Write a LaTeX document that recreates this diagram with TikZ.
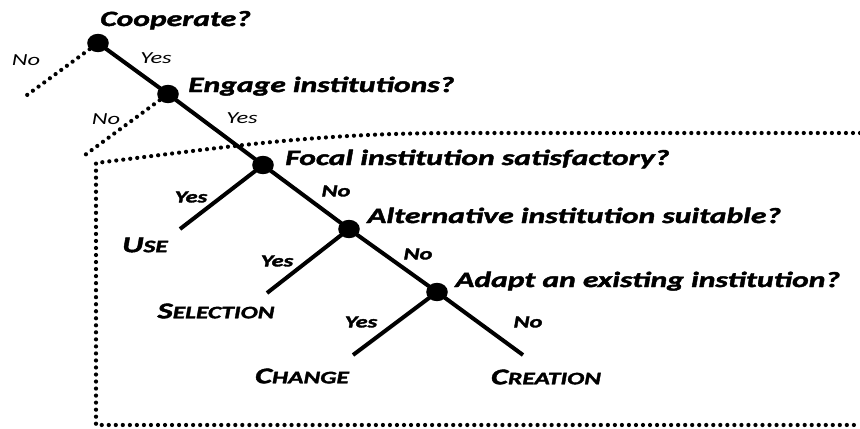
\documentclass[tikz,border=0pt]{standalone}
\usepackage{fontspec}
\setmainfont{Carlito}[FakeStretch=1.45, BoldItalicFeatures={FakeBold=2}]
\usetikzlibrary{shapes.geometric}

% outcome words in fake small caps
\newcommand{\outcome}[2]{#1{\fontsize{12.5}{14}\selectfont #2}}

\tikzset{
  choice/.style={ellipse, fill=black, inner sep=0pt, minimum width=0.54cm, minimum height=0.46cm},
  question/.style={anchor=base west, inner sep=0pt, font=\fontsize{15.5}{18}\selectfont\bfseries\itshape},
  answer/.style={inner sep=0pt, font=\fontsize{12}{14}\selectfont\bfseries\itshape},
  plainanswer/.style={inner sep=0pt, font=\fontsize{12}{14}\selectfont\itshape},
  result/.style={inner sep=0pt, font=\fontsize{16}{18}\selectfont\bfseries\itshape},
  branch/.style={line width=0.1cm},
  nobranch/.style={line width=3pt, line cap=round, dash pattern=on 0pt off 5pt},
}

\begin{document}
\begin{tikzpicture}
      \useasboundingbox (0,0) rectangle (21.5,10.7);
      % decision points
      \node[choice] (a) at (2.45, 9.625) {};
      \node[choice] (b) at (4.2, 8.35) {};
      \node[choice] (c) at (6.575, 6.575) {};
      \node[choice] (d) at (8.725, 4.975) {};
      \node[choice] (e) at (10.925, 3.4) {};
      \coordinate (an) at (0.575, 8.25);
      \coordinate (bn) at (2.125, 6.825);
      \coordinate (cy) at (4.5, 4.975);
      \coordinate (dy) at (6.675, 3.375);
      \coordinate (ey) at (8.825, 1.825);
      \coordinate (en) at (13.075, 1.825);
      % questions
      \node[question] (qa) at (2.5, 10.05) {Cooperate?};
      \node[question] (qb) at (4.7, 8.4) {Engage institutions?};
      \node[question] (qc) at (7.125, 6.575) {Focal institution satisfactory?};
      \node[question] (qd) at (9.175, 5.125) {Alternative institution suitable?};
      \node[question] (qe) at (11.375, 3.525) {Adapt an existing institution?};
      % answers
      \node[plainanswer] (x1) at (0.65, 9.2) {No};
      \node[plainanswer] (y1) at (3.9, 9.25) {Yes};
      \node[plainanswer] (x2) at (2.65, 7.725) {No};
      \node[plainanswer] (y2) at (6.05, 7.75) {Yes};
      \node[answer] (y3) at (4.775, 5.775) {Yes};
      \node[answer] (x3) at (8.4, 5.925) {No};
      \node[answer] (y4) at (6.925, 4.175) {Yes};
      \node[answer] (x4) at (10.45, 4.35) {No};
      \node[answer] (y5) at (9.025, 2.65) {Yes};
      \node[answer] (x5) at (13.2, 2.65) {No};
      % outcomes
      \node[result] (u) at (3.625, 4.575) {\outcome{U}{SE}};
      \node[result] (s) at (5.4, 2.925) {\outcome{S}{ELECTION}};
      \node[result] (g) at (7.55, 1.3) {\outcome{C}{HANGE}};
      \node[result] (r) at (13.65, 1.275) {\outcome{C}{REATION}};
      % branches
      \draw[branch] (a.center) -- (b.center) -- (c.center) -- (d.center) -- (e.center) -- (en);
      \draw[branch] (c.center) -- (cy);
      \draw[branch] (d.center) -- (dy);
      \draw[branch] (e.center) -- (ey);
      \draw[nobranch] (a) -- (an);
      \draw[nobranch] (b) -- (bn);
      % frame round the institutional choices, open at the page edge
      \draw[nobranch] (21.5, 7.375) -- (11.5, 7.375) to[out=180, in=7] (2.4, 6.625)
        -- (2.4, 0.075) -- (21.5, 0.075);
    \end{tikzpicture}
\end{document}
